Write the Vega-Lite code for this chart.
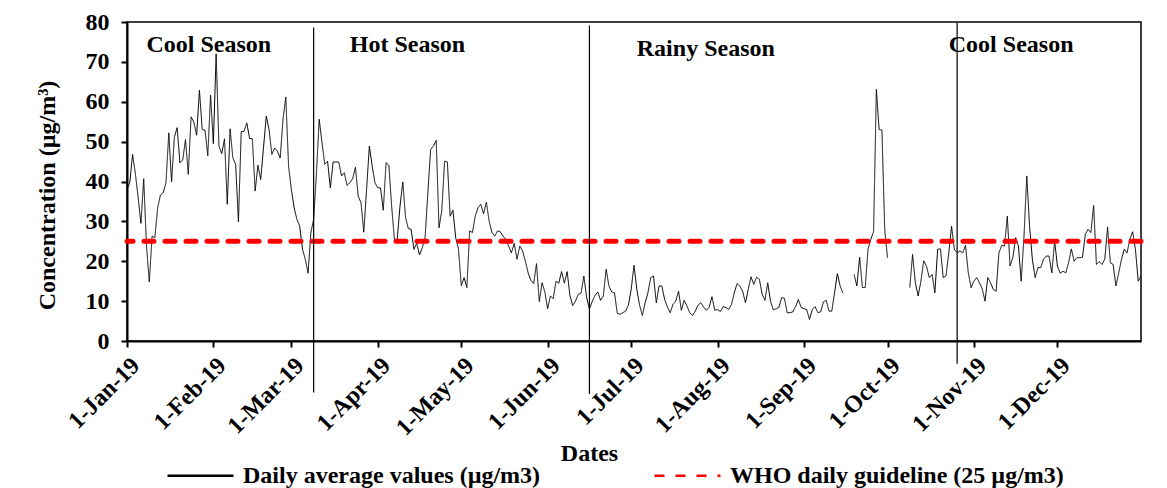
{
"$schema": "https://vega.github.io/schema/vega-lite/v6.json",
"width": 1014,
"height": 319,
"autosize": {"type": "none"},
"padding": {"left": 127, "top": 22, "right": 26, "bottom": 147},
"background": "white",
"datasets": {
"pm": [
{"date":"2019-01-01","value":38.0},{"date":"2019-01-02","value":39.7},{"date":"2019-01-03","value":46.8},{"date":"2019-01-04","value":42.0},{"date":"2019-01-05","value":36.0},{"date":"2019-01-06","value":29.5},{"date":"2019-01-07","value":40.7},{"date":"2019-01-08","value":23.8},{"date":"2019-01-09","value":14.8},{"date":"2019-01-10","value":26.3},{"date":"2019-01-11","value":25.9},{"date":"2019-01-12","value":33.4},{"date":"2019-01-13","value":36.6},{"date":"2019-01-14","value":37.2},{"date":"2019-01-15","value":39.7},{"date":"2019-01-16","value":52.2},{"date":"2019-01-17","value":39.9},{"date":"2019-01-18","value":51.1},{"date":"2019-01-19","value":53.5},{"date":"2019-01-20","value":44.7},{"date":"2019-01-21","value":45.4},{"date":"2019-01-22","value":50.5},{"date":"2019-01-23","value":41.8},{"date":"2019-01-24","value":56.2},{"date":"2019-01-25","value":54.9},{"date":"2019-01-26","value":51.6},{"date":"2019-01-27","value":62.9},{"date":"2019-01-28","value":53.0},{"date":"2019-01-29","value":52.9},{"date":"2019-01-30","value":46.5},{"date":"2019-01-31","value":61.7},
{"date":"2019-02-01","value":49.5},{"date":"2019-02-02","value":72.0},{"date":"2019-02-03","value":48.9},{"date":"2019-02-04","value":47.0},{"date":"2019-02-05","value":50.7},{"date":"2019-02-06","value":34.3},{"date":"2019-02-07","value":53.2},{"date":"2019-02-08","value":45.9},{"date":"2019-02-09","value":44.3},{"date":"2019-02-10","value":29.9},{"date":"2019-02-11","value":52.5},{"date":"2019-02-12","value":52.6},{"date":"2019-02-13","value":54.7},{"date":"2019-02-14","value":50.8},{"date":"2019-02-15","value":50.7},{"date":"2019-02-16","value":37.6},{"date":"2019-02-17","value":44.1},{"date":"2019-02-18","value":40.5},{"date":"2019-02-19","value":48.5},{"date":"2019-02-20","value":56.4},{"date":"2019-02-21","value":53.0},{"date":"2019-02-22","value":46.8},{"date":"2019-02-23","value":48.4},{"date":"2019-02-24","value":47.6},{"date":"2019-02-25","value":45.9},{"date":"2019-02-26","value":55.6},{"date":"2019-02-27","value":61.2},{"date":"2019-02-28","value":43.9},
{"date":"2019-03-01","value":38.0},{"date":"2019-03-02","value":33.4},{"date":"2019-03-03","value":30.5},{"date":"2019-03-04","value":28.8},{"date":"2019-03-05","value":23.0},{"date":"2019-03-06","value":20.5},{"date":"2019-03-07","value":17.0},{"date":"2019-03-08","value":27.2},{"date":"2019-03-09","value":30.5},{"date":"2019-03-10","value":42.0},{"date":"2019-03-11","value":55.6},{"date":"2019-03-12","value":49.7},{"date":"2019-03-13","value":44.3},{"date":"2019-03-14","value":45.1},{"date":"2019-03-15","value":38.4},{"date":"2019-03-16","value":44.9},{"date":"2019-03-17","value":44.9},{"date":"2019-03-18","value":44.9},{"date":"2019-03-19","value":41.4},{"date":"2019-03-20","value":42.2},{"date":"2019-03-21","value":39.0},{"date":"2019-03-22","value":39.7},{"date":"2019-03-23","value":40.7},{"date":"2019-03-24","value":43.6},{"date":"2019-03-25","value":36.3},{"date":"2019-03-26","value":34.7},{"date":"2019-03-27","value":27.3},{"date":"2019-03-28","value":38.0},{"date":"2019-03-29","value":48.9},{"date":"2019-03-30","value":43.9},{"date":"2019-03-31","value":39.7},
{"date":"2019-04-01","value":38.4},{"date":"2019-04-02","value":38.4},{"date":"2019-04-03","value":32.8},{"date":"2019-04-04","value":44.7},{"date":"2019-04-05","value":44.1},{"date":"2019-04-06","value":33.8},{"date":"2019-04-07","value":25.5},{"date":"2019-04-08","value":25.5},{"date":"2019-04-09","value":33.8},{"date":"2019-04-10","value":39.9},{"date":"2019-04-11","value":30.9},{"date":"2019-04-12","value":28.2},{"date":"2019-04-13","value":28.0},{"date":"2019-04-14","value":23.0},{"date":"2019-04-15","value":24.5},{"date":"2019-04-16","value":21.6},{"date":"2019-04-17","value":23.4},{"date":"2019-04-18","value":25.9},{"date":"2019-04-19","value":37.2},{"date":"2019-04-20","value":48.0},{"date":"2019-04-21","value":48.9},{"date":"2019-04-22","value":50.3},{"date":"2019-04-23","value":28.4},{"date":"2019-04-24","value":32.7},{"date":"2019-04-25","value":45.1},{"date":"2019-04-26","value":44.9},{"date":"2019-04-27","value":31.3},{"date":"2019-04-28","value":32.8},{"date":"2019-04-29","value":25.9},{"date":"2019-04-30","value":23.0},
{"date":"2019-05-01","value":13.9},{"date":"2019-05-02","value":15.9},{"date":"2019-05-03","value":13.4},{"date":"2019-05-04","value":27.6},{"date":"2019-05-05","value":27.2},{"date":"2019-05-06","value":31.3},{"date":"2019-05-07","value":33.4},{"date":"2019-05-08","value":34.3},{"date":"2019-05-09","value":31.9},{"date":"2019-05-10","value":34.8},{"date":"2019-05-11","value":30.1},{"date":"2019-05-12","value":27.2},{"date":"2019-05-13","value":26.3},{"date":"2019-05-14","value":27.6},{"date":"2019-05-15","value":27.4},{"date":"2019-05-16","value":26.3},{"date":"2019-05-17","value":25.5},{"date":"2019-05-18","value":23.8},{"date":"2019-05-19","value":22.1},{"date":"2019-05-20","value":24.5},{"date":"2019-05-21","value":20.5},{"date":"2019-05-22","value":23.8},{"date":"2019-05-23","value":22.6},{"date":"2019-05-24","value":20.0},{"date":"2019-05-25","value":17.1},{"date":"2019-05-26","value":15.2},{"date":"2019-05-27","value":14.4},{"date":"2019-05-28","value":19.4},{"date":"2019-05-29","value":9.9},{"date":"2019-05-30","value":14.6},{"date":"2019-05-31","value":12.3},
{"date":"2019-06-01","value":8.1},{"date":"2019-06-02","value":11.3},{"date":"2019-06-03","value":10.6},{"date":"2019-06-04","value":15.0},{"date":"2019-06-05","value":14.5},{"date":"2019-06-06","value":17.4},{"date":"2019-06-07","value":14.5},{"date":"2019-06-08","value":17.4},{"date":"2019-06-09","value":11.4},{"date":"2019-06-10","value":8.9},{"date":"2019-06-11","value":10.0},{"date":"2019-06-12","value":11.7},{"date":"2019-06-13","value":12.0},{"date":"2019-06-14","value":16.3},{"date":"2019-06-15","value":10.9},{"date":"2019-06-16","value":8.0},{"date":"2019-06-17","value":9.9},{"date":"2019-06-18","value":11.4},{"date":"2019-06-19","value":12.3},{"date":"2019-06-20","value":10.2},{"date":"2019-06-21","value":11.3},{"date":"2019-06-22","value":18.0},{"date":"2019-06-23","value":13.8},{"date":"2019-06-24","value":12.3},{"date":"2019-06-25","value":12.1},{"date":"2019-06-26","value":6.9},{"date":"2019-06-27","value":6.7},{"date":"2019-06-28","value":7.1},{"date":"2019-06-29","value":7.5},{"date":"2019-06-30","value":9.0},
{"date":"2019-07-01","value":13.0},{"date":"2019-07-02","value":19.0},{"date":"2019-07-03","value":13.0},{"date":"2019-07-04","value":9.0},{"date":"2019-07-05","value":6.4},{"date":"2019-07-06","value":9.6},{"date":"2019-07-07","value":12.1},{"date":"2019-07-08","value":15.9},{"date":"2019-07-09","value":16.3},{"date":"2019-07-10","value":9.6},{"date":"2019-07-11","value":13.8},{"date":"2019-07-12","value":13.8},{"date":"2019-07-13","value":10.4},{"date":"2019-07-14","value":8.5},{"date":"2019-07-15","value":7.1},{"date":"2019-07-16","value":9.2},{"date":"2019-07-17","value":10.0},{"date":"2019-07-18","value":12.5},{"date":"2019-07-19","value":7.7},{"date":"2019-07-20","value":10.2},{"date":"2019-07-21","value":8.8},{"date":"2019-07-22","value":7.1},{"date":"2019-07-23","value":6.4},{"date":"2019-07-24","value":7.5},{"date":"2019-07-25","value":9.0},{"date":"2019-07-26","value":9.6},{"date":"2019-07-27","value":8.5},{"date":"2019-07-28","value":7.7},{"date":"2019-07-29","value":8.5},{"date":"2019-07-30","value":11.1},{"date":"2019-07-31","value":7.7},
{"date":"2019-08-01","value":7.9},{"date":"2019-08-02","value":7.4},{"date":"2019-08-03","value":8.6},{"date":"2019-08-04","value":8.4},{"date":"2019-08-05","value":7.9},{"date":"2019-08-06","value":9.2},{"date":"2019-08-07","value":12.1},{"date":"2019-08-08","value":14.4},{"date":"2019-08-09","value":13.8},{"date":"2019-08-10","value":12.5},{"date":"2019-08-11","value":9.6},{"date":"2019-08-12","value":12.9},{"date":"2019-08-13","value":16.1},{"date":"2019-08-14","value":14.2},{"date":"2019-08-15","value":16.0},{"date":"2019-08-16","value":15.5},{"date":"2019-08-17","value":11.7},{"date":"2019-08-18","value":10.2},{"date":"2019-08-19","value":14.6},{"date":"2019-08-20","value":10.0},{"date":"2019-08-21","value":7.8},{"date":"2019-08-22","value":8.1},{"date":"2019-08-23","value":8.4},{"date":"2019-08-24","value":10.9},{"date":"2019-08-25","value":10.7},{"date":"2019-08-26","value":7.1},{"date":"2019-08-27","value":7.1},{"date":"2019-08-28","value":7.3},{"date":"2019-08-29","value":8.6},{"date":"2019-08-30","value":10.4},{"date":"2019-08-31","value":8.4},
{"date":"2019-09-01","value":8.1},{"date":"2019-09-02","value":7.9},{"date":"2019-09-03","value":5.4},{"date":"2019-09-04","value":7.9},{"date":"2019-09-05","value":8.6},{"date":"2019-09-06","value":7.1},{"date":"2019-09-07","value":7.3},{"date":"2019-09-08","value":9.8},{"date":"2019-09-09","value":10.2},{"date":"2019-09-10","value":7.5},{"date":"2019-09-11","value":7.5},{"date":"2019-09-12","value":12.1},{"date":"2019-09-13","value":16.9},{"date":"2019-09-14","value":13.8},{"date":"2019-09-15","value":12.0},{"date":"2019-09-16","value":null},{"date":"2019-09-17","value":null},{"date":"2019-09-18","value":null},{"date":"2019-09-19","value":16.7},{"date":"2019-09-20","value":13.8},{"date":"2019-09-21","value":21.0},{"date":"2019-09-22","value":13.4},{"date":"2019-09-23","value":13.4},{"date":"2019-09-24","value":23.0},{"date":"2019-09-25","value":25.5},{"date":"2019-09-26","value":27.4},{"date":"2019-09-27","value":63.1},{"date":"2019-09-28","value":53.0},{"date":"2019-09-29","value":52.9},{"date":"2019-09-30","value":28.0},
{"date":"2019-10-01","value":20.9},{"date":"2019-10-02","value":null},{"date":"2019-10-03","value":null},{"date":"2019-10-04","value":null},{"date":"2019-10-05","value":null},{"date":"2019-10-06","value":null},{"date":"2019-10-07","value":null},{"date":"2019-10-08","value":null},{"date":"2019-10-09","value":13.4},{"date":"2019-10-10","value":21.7},{"date":"2019-10-11","value":14.6},{"date":"2019-10-12","value":11.3},{"date":"2019-10-13","value":15.0},{"date":"2019-10-14","value":20.1},{"date":"2019-10-15","value":18.8},{"date":"2019-10-16","value":15.9},{"date":"2019-10-17","value":16.7},{"date":"2019-10-18","value":12.1},{"date":"2019-10-19","value":23.0},{"date":"2019-10-20","value":23.1},{"date":"2019-10-21","value":15.9},{"date":"2019-10-22","value":16.3},{"date":"2019-10-23","value":22.1},{"date":"2019-10-24","value":28.8},{"date":"2019-10-25","value":23.0},{"date":"2019-10-26","value":22.1},{"date":"2019-10-27","value":22.6},{"date":"2019-10-28","value":22.1},{"date":"2019-10-29","value":24.0},{"date":"2019-10-30","value":17.1},{"date":"2019-10-31","value":13.4},
{"date":"2019-11-01","value":15.0},{"date":"2019-11-02","value":15.9},{"date":"2019-11-03","value":14.6},{"date":"2019-11-04","value":13.1},{"date":"2019-11-05","value":10.0},{"date":"2019-11-06","value":15.9},{"date":"2019-11-07","value":14.6},{"date":"2019-11-08","value":12.9},{"date":"2019-11-09","value":12.5},{"date":"2019-11-10","value":22.1},{"date":"2019-11-11","value":24.0},{"date":"2019-11-12","value":23.8},{"date":"2019-11-13","value":31.3},{"date":"2019-11-14","value":18.8},{"date":"2019-11-15","value":20.9},{"date":"2019-11-16","value":25.9},{"date":"2019-11-17","value":23.8},{"date":"2019-11-18","value":15.0},{"date":"2019-11-19","value":26.3},{"date":"2019-11-20","value":41.4},{"date":"2019-11-21","value":28.8},{"date":"2019-11-22","value":20.5},{"date":"2019-11-23","value":15.9},{"date":"2019-11-24","value":18.4},{"date":"2019-11-25","value":18.4},{"date":"2019-11-26","value":20.5},{"date":"2019-11-27","value":21.3},{"date":"2019-11-28","value":21.3},{"date":"2019-11-29","value":17.1},{"date":"2019-11-30","value":25.1},
{"date":"2019-12-01","value":18.8},{"date":"2019-12-02","value":17.0},{"date":"2019-12-03","value":17.5},{"date":"2019-12-04","value":17.1},{"date":"2019-12-05","value":19.6},{"date":"2019-12-06","value":23.1},{"date":"2019-12-07","value":20.0},{"date":"2019-12-08","value":20.9},{"date":"2019-12-09","value":20.9},{"date":"2019-12-10","value":21.0},{"date":"2019-12-11","value":26.7},{"date":"2019-12-12","value":28.0},{"date":"2019-12-13","value":27.2},{"date":"2019-12-14","value":34.0},{"date":"2019-12-15","value":19.2},{"date":"2019-12-16","value":19.9},{"date":"2019-12-17","value":19.2},{"date":"2019-12-18","value":20.5},{"date":"2019-12-19","value":28.6},{"date":"2019-12-20","value":19.6},{"date":"2019-12-21","value":19.2},{"date":"2019-12-22","value":13.8},{"date":"2019-12-23","value":17.1},{"date":"2019-12-24","value":20.5},{"date":"2019-12-25","value":23.0},{"date":"2019-12-26","value":22.1},{"date":"2019-12-27","value":25.5},{"date":"2019-12-28","value":27.4},{"date":"2019-12-29","value":23.0},{"date":"2019-12-30","value":15.0},{"date":"2019-12-31","value":16.3}
],
"dividers": [
{"date":"2019-03-09","value":78.6,"value2":-12.9},
{"date":"2019-06-16","value":79.1,"value2":-13.3},
{"date":"2019-10-26","value":79.8,"value2":-5.7}
],
"seasons": [
{"date":"2019-01-08","value":72.4,"label":"Cool Season"},
{"date":"2019-03-22","value":72.4,"label":"Hot Season"},
{"date":"2019-07-03","value":71.4,"label":"Rainy Season"},
{"date":"2019-10-23","value":72.4,"label":"Cool Season"}
],
"who": [
{"value":25}
]
},
"encoding": {
"y": {"field": "value", "type": "quantitative",
"scale": {"domain": [0, 80], "nice": false, "zero": false},
"axis": {"title": "Concentration (µg/m³)", "values": [0,10,20,30,40,50,60,70,80], "labelOverlap": false, "labelSeparation": 0, "labelBound": false, "labelPadding": 12, "titlePadding": 26, "titleY": 173}}
},
"layer": [
{
"data": {"name": "pm"},
"mark": {"type": "line", "strokeWidth": 1, "invalid": "break-paths-filter-domains"},
"encoding": {
"x": {"field": "date", "type": "temporal",
"scale": {"type": "utc", "domain": [{"year":2019,"month":1,"date":1,"utc":true},{"year":2019,"month":12,"date":31,"utc":true}]},
"axis": {"title": "Dates", "format": "%-d-%b-%y", "labelAngle": -45, "labelPadding": 6, "labelOverlap": false, "labelFlush": false, "titleX": 462, "titleY": 100,
"values": [{"year":2019,"month":1,"date":1,"utc":true},{"year":2019,"month":2,"date":1,"utc":true},{"year":2019,"month":3,"date":1,"utc":true},{"year":2019,"month":4,"date":1,"utc":true},{"year":2019,"month":5,"date":1,"utc":true},{"year":2019,"month":6,"date":1,"utc":true},{"year":2019,"month":7,"date":1,"utc":true},{"year":2019,"month":8,"date":1,"utc":true},{"year":2019,"month":9,"date":1,"utc":true},{"year":2019,"month":10,"date":1,"utc":true},{"year":2019,"month":11,"date":1,"utc":true},{"year":2019,"month":12,"date":1,"utc":true}]}},
"color": {"datum": "Daily average values (µg/m3)", "type": "nominal",
"scale": {"domain": ["Daily average values (µg/m3)", "WHO daily guideline (25 µg/m3)"], "range": ["black", "#ff0000"]}},
"strokeDash": {"datum": "Daily average values (µg/m3)", "type": "nominal",
"scale": {"domain": ["Daily average values (µg/m3)", "WHO daily guideline (25 µg/m3)"], "range": [[1, 0], [10, 11]]}}
}
},
{
"data": {"name": "who"},
"mark": {"type": "rule", "strokeCap": "round", "strokeWidth": 5},
"encoding": {
"color": {"datum": "WHO daily guideline (25 µg/m3)", "type": "nominal"},
"strokeDash": {"datum": "WHO daily guideline (25 µg/m3)", "type": "nominal"}
}
},
{
"data": {"name": "dividers"},
"mark": {"type": "rule", "color": "black", "strokeWidth": 1.2},
"encoding": {
"x": {"field": "date", "type": "temporal"},
"y2": {"field": "value2"}
}
},
{
"data": {"name": "seasons"},
"mark": {"type": "text", "align": "left", "baseline": "alphabetic", "font": "Liberation Serif", "fontSize": 24, "fontWeight": "bold", "color": "black"},
"encoding": {
"x": {"field": "date", "type": "temporal"},
"text": {"field": "label", "type": "nominal"}
}
}
],
"config": {
"font": "Liberation Serif",
"view": {"stroke": "black", "strokeWidth": 1.5},
"axis": {"grid": false, "domainColor": "black", "domainWidth": 2, "tickColor": "black", "tickWidth": 2, "tickSize": 6,
"labelColor": "black", "labelFont": "Liberation Serif", "labelFontSize": 24, "labelFontWeight": "bold", "labelOverlap": false,
"titleColor": "black", "titleFont": "Liberation Serif", "titleFontSize": 24, "titleFontWeight": "bold"},
"legend": {"orient": "none", "legendX": 39, "legendY": 419, "direction": "horizontal", "title": null,
"symbolType": "stroke", "symbolSize": 4356, "symbolStrokeWidth": 2.5, "labelFont": "Liberation Serif", "labelFontSize": 24, "labelFontWeight": "bold",
"labelColor": "black", "labelOffset": 8, "columnPadding": 108, "padding": 0, "labelLimit": 0}
}
}
